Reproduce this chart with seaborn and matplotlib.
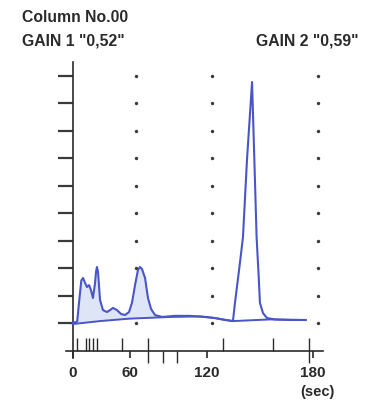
import numpy as np
import pandas as pd
import matplotlib
matplotlib.use("Agg")
import matplotlib.pyplot as plt
import matplotlib.transforms as mtransforms
import seaborn as sns

# ---- data (chart units: x = time position, y = signal in grid divisions) ----
trace_x = [0, 3.5, 5.0, 6.6, 7.9, 9.4, 10.9, 12.4, 13.8, 15.3, 16.8, 17.6, 18.3, 19.1,
           20.6, 22.8, 25.8, 28.1, 30.3, 33.3, 36.3, 39.3, 42.3, 44.5, 46.8, 49.0, 50.5, 52.0,
           54.3, 56.5, 58.8, 61.8, 67.0, 76.7, 87.9, 99.2, 106.7, 114.1, 120.1, 121.6, 125.4,
           127.6, 130.6, 134.4, 135.9, 137.8, 139.3, 140.3, 142.6, 145.6, 151.6, 162.8, 174.8]
trace_y = [0, 0.05, 0.80, 1.55, 1.64, 1.46, 1.31, 1.38, 1.20, 0.91, 1.42, 1.86, 2.04, 1.86,
           0.84, 0.47, 0.40, 0.47, 0.55, 0.47, 0.33, 0.29, 0.40, 0.73, 1.38, 1.93, 2.04, 1.97,
           1.64, 0.91, 0.51, 0.29, 0.22, 0.26, 0.26, 0.22, 0.18, 0.11, 0.07, 0.73, 2.22,
           3.13, 5.94, 8.78, 6.30, 3.13, 1.75, 0.73, 0.36, 0.18, 0.13, 0.11, 0.11]
base_x = [0, 20.6, 43.0, 73.0, 95.4, 106.7, 120.1, 147.8, 174.8]
base_y = [-0.04, 0.07, 0.16, 0.22, 0.24, 0.18, 0.07, 0.13, 0.11]

xtick_pos = [0, 42.7, 100.7, 180]
xtick_labels = ["0", "60", "120", "180"]
ytick_pos = [0, 1, 2, 3, 4, 5, 6, 7, 8, 9]
dot_cols = [47.5, 104.4, 183.8]

event_up = [3.0, 10.1, 12.7, 15.3, 18.3, 37.1, 112.6, 150.1]
event_cross = [56.5, 177.0]
event_down = [67.7, 78.2]

title_line1 = "Column No.00"
gain1 = 'GAIN 1 "0,52"'
gain2 = 'GAIN 2 "0,59"'
unit_label = "(sec)"

# ---- style ----
sns.set_style("white")
plt.rcParams["font.family"] = ["Liberation Sans", "DejaVu Sans"]

line_color = "#4a56c8"
fill_color = "#dde5f6"
ink = "#2a2a2a"

W, H = 366, 404
fig = plt.figure(figsize=(W / 100, H / 100), dpi=100)

px_left, px_right, px_top, px_bottom = 66, 323, 60, 366
ax = fig.add_axes([px_left / W, 1 - px_bottom / H, (px_right - px_left) / W, (px_bottom - px_top) / H])

xs_per_px = 1 / 1.336
ys_per_px = 1 / 27.45
ax.set_xlim((px_left - 72.5) * xs_per_px, (px_right - 72.5) * xs_per_px)
ax.set_ylim(-(px_bottom - 323) * ys_per_px, (323 - px_top) * ys_per_px)

# dotted grid
dx, dy = np.meshgrid(dot_cols, ytick_pos)
ax.scatter(dx.ravel(), dy.ravel(), s=6, color="#3a3a3a", marker="o", linewidths=0, zorder=1)

# fill under early peaks
tx = np.array(trace_x)
ty = np.array(trace_y)
bl = np.interp(tx, base_x, base_y)
mask = tx <= 68
ax.fill_between(tx[mask], bl[mask], ty[mask], color=fill_color, zorder=2, linewidth=0)

df_trace = pd.DataFrame({"t": trace_x, "signal": trace_y})
df_base = pd.DataFrame({"t": base_x, "signal": base_y})
sns.lineplot(data=df_base, x="t", y="signal", sort=False, estimator=None, color=line_color,
             linewidth=1.4, ax=ax, zorder=3)
sns.lineplot(data=df_trace, x="t", y="signal", sort=False, estimator=None, color=line_color,
             linewidth=1.5, ax=ax, zorder=4)
ax.set_xlabel("")
ax.set_ylabel("")

axis_y = -1.02
up_top = -0.546
down_bot = -1.457
ax.vlines(event_up, axis_y, up_top, color=ink, linewidth=1.0, zorder=5)
ax.vlines(event_cross, down_bot, up_top, color=ink, linewidth=1.0, zorder=5)
ax.vlines(event_down, down_bot, axis_y, color=ink, linewidth=1.0, zorder=5)

# spines
for s in ["top", "right"]:
    ax.spines[s].set_visible(False)
ax.spines["left"].set_position(("data", 0))
ax.spines["left"].set_bounds(-1.275, 9.51)
ax.spines["bottom"].set_position(("data", axis_y))
for s in ["left", "bottom"]:
    ax.spines[s].set_color(ink)
    ax.spines[s].set_linewidth(1.2)

ax.set_yticks(ytick_pos)
ax.set_yticklabels([])
ax.tick_params(axis="y", direction="out", length=10.8, width=1.6, color="#3a3a3a", left=True)
ax.set_xticks(xtick_pos)
ax.set_xticklabels(xtick_labels, fontsize=11, fontweight="bold", color=ink)
ax.tick_params(axis="x", direction="out", length=5, width=1.2, color=ink, pad=6, bottom=True)

trans = mtransforms.blended_transform_factory(ax.transData, fig.transFigure)
ax.text(183.5, 1 - 392 / H, unit_label, transform=trans, ha="center", va="center",
        fontsize=10.5, fontweight="bold", color=ink)

fig.text(22 / W, 1 - 18 / H, title_line1, ha="left", va="center", fontsize=11.3,
         fontweight="bold", color=ink)
fig.text(22 / W, 1 - 41 / H, gain1, ha="left", va="center", fontsize=11.3,
         fontweight="bold", color=ink)
fig.text(359 / W, 1 - 41 / H, gain2, ha="right", va="center", fontsize=11.3,
         fontweight="bold", color=ink)

fig.savefig("out.png", dpi=100)
